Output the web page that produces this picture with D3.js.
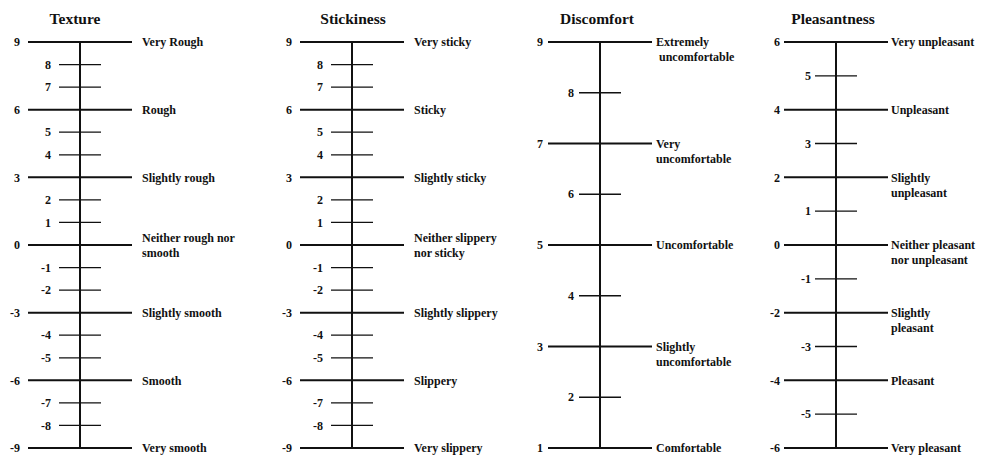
<!DOCTYPE html>
<html><head><meta charset="utf-8">
<script src="https://cdn.jsdelivr.net/npm/d3@7"></script>
<style>
body{margin:0;background:#fff;}
text{font-family:"Liberation Serif","Times New Roman",serif;font-weight:bold;fill:#111;}
</style></head>
<body><svg id="c" width="984" height="457"></svg>
<script>
// ---- data ----
const titles = ["Texture", "Stickiness", "Discomfort", "Pleasantness"];
const textureTicks = [9,8,7,6,5,4,3,2,1,0,-1,-2,-3,-4,-5,-6,-7,-8,-9];
const textureMajor = [9,6,3,0,-3,-6,-9];
const textureAnchors = ["Very Rough","Rough","Slightly rough","Neither rough nor|smooth","Slightly smooth","Smooth","Very smooth"];
const stickinessTicks = [9,8,7,6,5,4,3,2,1,0,-1,-2,-3,-4,-5,-6,-7,-8,-9];
const stickinessMajor = [9,6,3,0,-3,-6,-9];
const stickinessAnchors = ["Very sticky","Sticky","Slightly sticky","Neither slippery|nor sticky","Slightly slippery","Slippery","Very slippery"];
const discomfortTicks = [9,8,7,6,5,4,3,2,1];
const discomfortMajor = [9,7,5,3,1];
const discomfortAnchors = ["Extremely| uncomfortable","Very|uncomfortable","Uncomfortable","Slightly|uncomfortable","Comfortable"];
const pleasantTicks = [6,5,4,3,2,1,0,-1,-2,-3,-4,-5,-6];
const pleasantMajor = [6,4,2,0,-2,-4,-6];
const pleasantAnchors = ["Very unpleasant","Unpleasant","Slightly|unpleasant","Neither pleasant|nor unpleasant","Slightly|pleasant","Pleasant","Very pleasant"];

const panels = [
  {title:titles[0], ticks:textureTicks, major:textureMajor, anchors:textureAnchors},
  {title:titles[1], ticks:stickinessTicks, major:stickinessMajor, anchors:stickinessAnchors},
  {title:titles[2], ticks:discomfortTicks, major:discomfortMajor, anchors:discomfortAnchors},
  {title:titles[3], ticks:pleasantTicks, major:pleasantMajor, anchors:pleasantAnchors}
];
// ---- layout ----
const layout = [
  {axisX:80,  titleX:75,  labelGap:10, numGap:8, centerBlock:true},
  {axisX:352, titleX:353, labelGap:10, numGap:8, centerBlock:true},
  {axisX:600, titleX:597, labelGap:4,  numGap:5, centerBlock:false},
  {axisX:836, titleX:833, labelGap:3,  numGap:4, centerBlock:false}
];
const yTop = 42, yBot = 448, majLeft = 52, majRight = 52, minLeft = 21, minRight = 21, lineH = 15;

const svg = d3.select("#c");
panels.forEach((p, i) => {
  const L = layout[i];
  const y = d3.scaleLinear().domain(d3.extent(p.ticks)).range([yBot, yTop]);
  const g = svg.append("g");
  g.append("text").attr("x", L.titleX).attr("y", 24).attr("text-anchor","middle")
    .style("font-size","15.5px").text(p.title);
  g.append("line").attr("x1",L.axisX).attr("x2",L.axisX)
    .attr("y1",y(d3.max(p.ticks))-1).attr("y2",y(d3.min(p.ticks)))
    .attr("stroke","#111").attr("stroke-width",2);
  p.ticks.forEach(v => {
    const isMaj = p.major.includes(v);
    const x1 = L.axisX - (isMaj ? majLeft : minLeft);
    const x2 = L.axisX + (isMaj ? majRight : minRight);
    g.append("line").attr("x1",x1).attr("x2",x2).attr("y1",y(v)).attr("y2",y(v))
      .attr("stroke","#111").attr("stroke-width", isMaj ? 2 : 1.3);
    g.append("text").attr("x", x1 - L.numGap).attr("y", y(v)).attr("dy","0.35em")
      .attr("text-anchor","end").style("font-size","12px").text(v);
    if (isMaj) {
      const lines = p.anchors[p.major.indexOf(v)].split("|");
      const off = L.centerBlock ? -(lines.length-1)*lineH/2 : 0;
      lines.forEach((t, k) => {
        g.append("text").attr("x", x2 + L.labelGap).attr("y", y(v) + off + k*lineH)
          .attr("dy","0.35em").style("font-size","12px").style("white-space","pre")
          .attr("xml:space","preserve").text(t);
      });
    }
  });
});
</script></body></html>
